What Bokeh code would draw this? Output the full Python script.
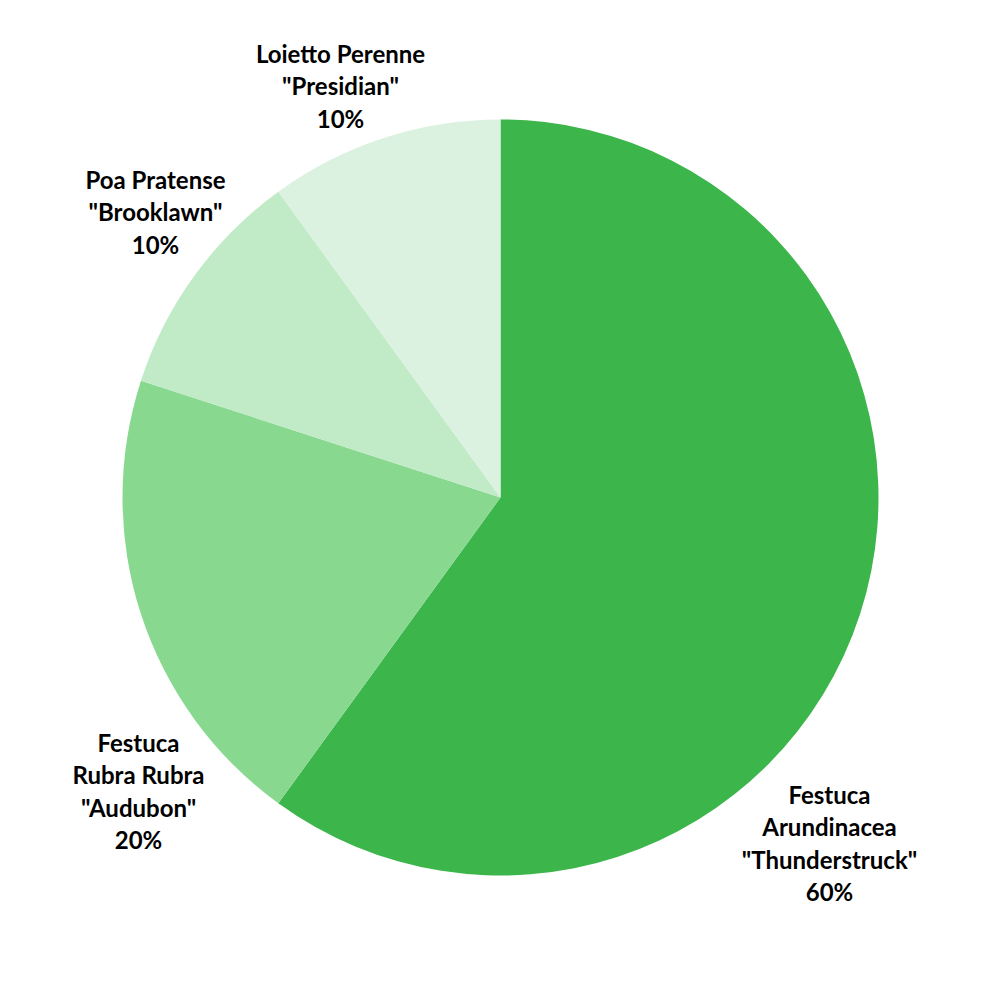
import math
from bokeh.plotting import figure
from bokeh.models import Range1d, ColumnDataSource
from bokeh.core.properties import value
from bokeh.embed import file_html
from bokeh.resources import INLINE

# Data (clockwise from top)
names = ['Festuca\nArundinacea\n"Thunderstruck"', 'Festuca\nRubra Rubra\n"Audubon"',
         'Poa Pratense\n"Brooklawn"', 'Loietto Perenne\n"Presidian"']
shares = [60, 20, 10, 10]
colors = ["#3cb54b", "#88d890", "#c0ebc6", "#dcf2e0"]

# Layout (page coordinates of label centres, first line y)
label_pos = [(829, 794), (138, 742), (155, 179), (340, 53)]
line_step = 32.3
cx, cy_page, r = 500, 497, 378

W = H = 984
p = figure(width=W, height=H, output_backend="svg", toolbar_location=None,
           x_range=Range1d(0, 984), y_range=Range1d(16, 1000), min_border=0)
p.axis.visible = False
p.grid.visible = False
p.outline_line_color = None
p.background_fill_color = "white"
p.border_fill_color = "white"

def py(yp):
    return 1000 - yp

total = sum(shares)
starts, ends = [], []
a = math.pi / 2
for s in shares:
    e = a - 2 * math.pi * s / total
    starts.append(a)
    ends.append(e)
    a = e

src = ColumnDataSource(dict(start=starts, end=ends, color=colors))
p.wedge(x=cx, y=py(cy_page), radius=r, start_angle="start", end_angle="end",
        direction="clock", fill_color="color", line_color=None, source=src)

xs, ys, txt = [], [], []
for name, s, (lx, ly) in zip(names, shares, label_pos):
    lines = name.split("\n") + [f"{s}%"]
    for i, ln in enumerate(lines):
        xs.append(lx)
        ys.append(py(ly + i * line_step))
        txt.append(ln)

p.text(x=xs, y=ys, text=txt, text_align="center", text_baseline="middle",
       text_font=value("Lato"), text_font_style="bold", text_font_size="24px",
       text_color="#000000")

open("out.html", "w").write(file_html(p, INLINE))
